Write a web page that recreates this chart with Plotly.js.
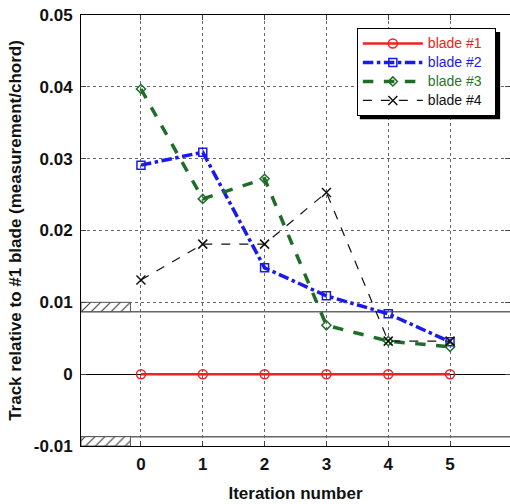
<!DOCTYPE html>
<html>
<head>
<meta charset="utf-8">
<script src="https://cdn.plot.ly/plotly-3.0.1.min.js"></script>
<style>html,body{margin:0;padding:0;background:#fff;}#chart{width:510px;height:504px;}</style>
</head>
<body>
<div id="chart"></div>
<script>
const iterations = [0, 1, 2, 3, 4, 5];
const blade1 = [0, 0, 0, 0, 0, 0];
const blade2 = [0.0291, 0.0309, 0.0148, 0.0109, 0.0084, 0.0045];
const blade3 = [0.0397, 0.0244, 0.0272, 0.0068, 0.0046, 0.0038];
const blade4 = [0.0131, 0.0181, 0.0181, 0.0253, 0.0046, 0.0046];
const seriesNames = ['blade #1', 'blade #2', 'blade #3', 'blade #4'];
const tolerance = 0.0087;
const limit = 0.01;
const xTicks = [0, 1, 2, 3, 4, 5];
const yTicks = [-0.01, 0, 0.01, 0.02, 0.03, 0.04, 0.05];
const yTickText = ['-0.01', '0', '0.01', '0.02', '0.03', '0.04', '0.05'];

const xMin = -0.97, xMax = 5.97, hatchEnd = -0.17;

function hatch(y0, y1) {
  return {
    x: [xMin, hatchEnd, hatchEnd, xMin, xMin],
    y: [y0, y0, y1, y1, y0],
    mode: 'lines', fill: 'toself', fillcolor: 'rgba(0,0,0,0)',
    fillpattern: {shape: '/', fgcolor: '#333', bgcolor: 'white', size: 7, solidity: 0.15},
    line: {color: '#555', width: 1}, showlegend: false, hoverinfo: 'skip'
  };
}
function label(name, color) {
  return '<span style="color:' + color + ';font-size:14px">' + name + '\u00a0\u00a0</span>';
}

const traces = [
  hatch(tolerance, limit),
  hatch(-limit, -tolerance),
  {x: iterations, y: blade1, name: label(seriesNames[0], '#ee2222'), mode: 'lines+markers',
   line: {color: '#ee2222', width: 2.5}, marker: {symbol: 'circle-open', size: 9, color: '#ee2222', line: {width: 1.5}}},
  {x: iterations, y: blade2, name: label(seriesNames[1], '#1a1aee'), mode: 'lines+markers',
   line: {color: '#1a1aee', width: 3.5, dash: 'dashdot'}, marker: {symbol: 'square-open', size: 8, color: '#1a1aee', line: {width: 1.5}}},
  {x: iterations, y: blade3, name: label(seriesNames[2], '#1f7a2a'), mode: 'lines+markers',
   line: {color: '#1f6e28', width: 3.5, dash: 'dash'}, marker: {symbol: 'diamond-open', size: 7, color: '#1f6e28', line: {width: 1.5}}},
  {x: iterations, y: blade4, name: label(seriesNames[3], '#111'), mode: 'lines+markers',
   line: {color: '#111', width: 1.2, dash: 'dash'}, marker: {symbol: 'x-thin-open', size: 9, color: '#111', line: {width: 1.5, color: '#111'}}}
];

const layout = {
  width: 510, height: 504,
  margin: {l: 81, r: 0, t: 15, b: 58},
  paper_bgcolor: 'white', plot_bgcolor: 'white',
  font: {family: 'Liberation Sans, Arial, sans-serif', color: '#111'},
  showlegend: true,
  legend: {x: 0.643, y: 0.97, xanchor: 'left', yanchor: 'top', bgcolor: 'white', bordercolor: '#000', borderwidth: 1,
           font: {size: 12, family: 'Liberation Sans, Arial, sans-serif'}, itemwidth: 60, tracegroupgap: 0},
  xaxis: {range: [xMin, xMax], tickvals: xTicks, ticktext: xTicks.map(String), ticks: 'inside', ticklen: 5,
          showline: true, linecolor: '#000', linewidth: 1, mirror: 'ticks',
          showgrid: true, gridcolor: '#666', griddash: 'dot', gridwidth: 1, zeroline: false,
          ticklabelstandoff: 3,
          tickfont: {size: 17, weight: 'bold'},
          title: {text: 'Iteration number', font: {size: 17, weight: 'bold'}, standoff: 13}},
  yaxis: {range: [-0.01, 0.05], tickvals: yTicks, ticktext: yTickText, ticks: 'inside', ticklen: 5,
          showline: true, linecolor: '#000', linewidth: 1, mirror: 'ticks',
          showgrid: true, gridcolor: '#666', griddash: 'dot', gridwidth: 1,
          zeroline: true, zerolinecolor: '#000', zerolinewidth: 1,
          ticklabelstandoff: 4,
          tickfont: {size: 17, weight: 'bold'},
          title: {text: 'Track relative to #1 blade (measurement/chord)', font: {size: 17, weight: 'bold'}, standoff: 7}},
  shapes: [
    {type: 'line', xref: 'paper', x0: 0, x1: 1, yref: 'y', y0: tolerance, y1: tolerance, line: {color: '#666', width: 1.5}, layer: 'below'},
    {type: 'line', xref: 'paper', x0: 0, x1: 1, yref: 'y', y0: -tolerance, y1: -tolerance, line: {color: '#666', width: 1.5}, layer: 'below'},
    {type: 'rect', xref: 'paper', yref: 'paper', x0: 0.650, x1: 0.977, y0: 0.758, y1: 0.9606, fillcolor: '#000', line: {width: 0}, layer: 'above'}
  ]
};

Plotly.newPlot('chart', traces, layout, {displayModeBar: false, staticPlot: true});
</script>
</body>
</html>
